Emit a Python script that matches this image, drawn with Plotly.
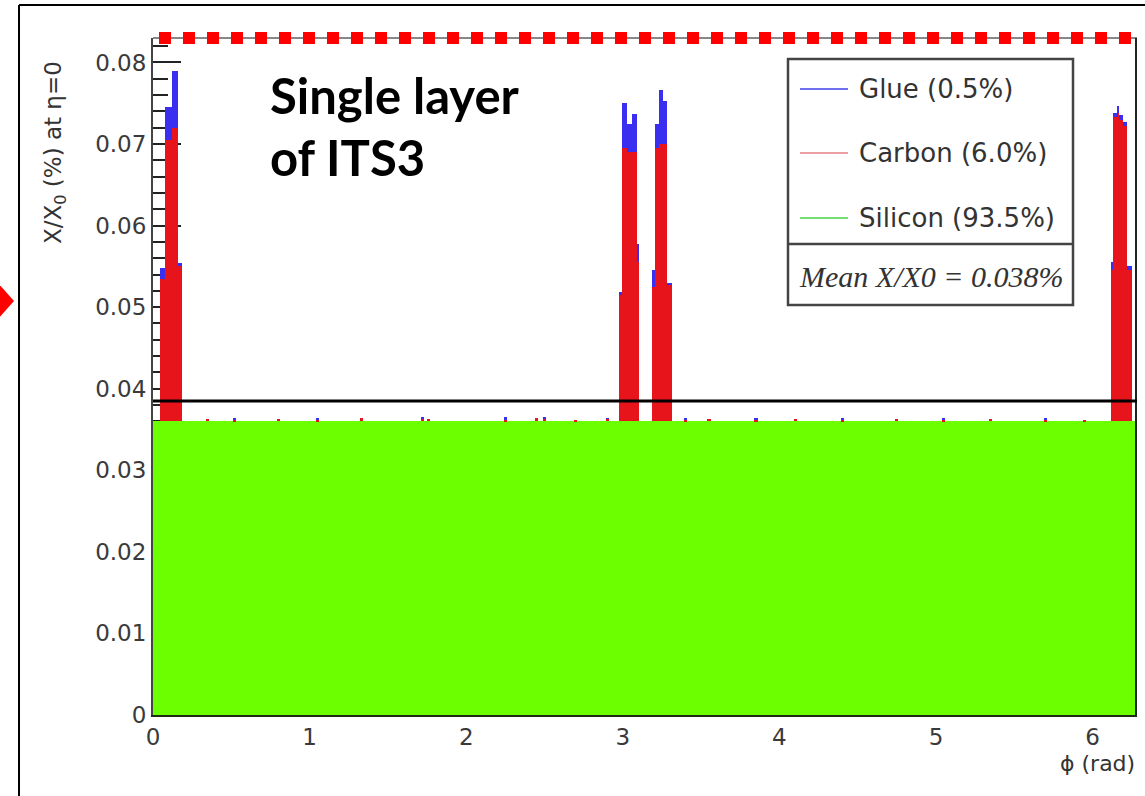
import plotly.graph_objects as go

# ---------------- data ----------------
TWO_PI = 6.283185
silicon_level = 0.0360          # flat silicon contribution (%)
mean_x0 = 0.0385                # mean X/X0 line

# peak bins (phi edges, rad) and stacked contributions above silicon
peak_lo = [0.045, 0.077, 0.121, 0.160,
           2.976, 2.995, 3.027, 3.059, 3.091,
           3.186, 3.206, 3.231, 3.257, 3.282,
           6.118, 6.132, 6.160, 6.170, 6.195, 6.221]
peak_hi = [0.077, 0.121, 0.160, 0.185,
           2.995, 3.027, 3.059, 3.091, 3.103,
           3.206, 3.231, 3.257, 3.282, 3.314,
           6.132, 6.160, 6.170, 6.195, 6.221, 6.253]
peak_carbon = [0.0175, 0.0345, 0.0360, 0.0190,
               0.0155, 0.0335, 0.0330, 0.0330, 0.0195,
               0.0165, 0.0335, 0.0340, 0.0340, 0.0168,
               0.0185, 0.0373, 0.0378, 0.0370, 0.0362, 0.0185]
peak_glue = [0.0013, 0.0040, 0.0070, 0.0004,
             0.0003, 0.0055, 0.0035, 0.0047, 0.0023,
             0.0020, 0.0030, 0.0066, 0.0053, 0.0002,
             0.0010, 0.0005, 0.0009, 0.0006, 0.0005, 0.0006]

# small fluctuations on top of the silicon plateau
speck_phi = [0.35, 0.52, 0.80, 1.05, 1.33, 1.72, 1.76, 2.25, 2.45, 2.50, 2.70, 2.90,
             3.40, 3.55, 3.85, 4.10, 4.40, 4.75, 5.05, 5.35, 5.70, 5.95]
speck_carbon = [0.0003, 0.0002, 0.0003, 0.0002, 0.0004, 0.0004, 0.0003, 0.0002, 0.0004, 0.0003,
                0.0002, 0.0003, 0.0002, 0.0003, 0.0002, 0.0003, 0.0002, 0.0003, 0.0002, 0.0003,
                0.0002, 0.0002]
speck_glue = [0.0000, 0.0002, 0.0000, 0.0002, 0.0000, 0.0001, 0.0000, 0.0003, 0.0000, 0.0002,
              0.0000, 0.0001, 0.0002, 0.0000, 0.0002, 0.0000, 0.0002, 0.0000, 0.0002, 0.0000,
              0.0001, 0.0000]
speck_width = 0.02

x_ticks = [0, 1, 2, 3, 4, 5, 6]
legend_labels = ["Glue (0.5%)", "Carbon (6.0%)", "Silicon (93.5%)"]
mean_label = "Mean X/X0 = 0.038%"

GREEN = "#6cff00"
RED = "#e8141c"
BLUE = "#3a2ef0"

# ---------------- layout geometry (pixels) ----------------
W, H = 1145, 796
PL, PR, PT, PB = 153, 1137, 38, 715


def px(x):
    return (x - PL) / (PR - PL)


def py(y):
    return (PB - y) / (PB - PT)


fig = go.Figure()

# silicon plateau
fig.add_trace(go.Bar(x=[TWO_PI / 2], y=[silicon_level], width=[TWO_PI],
                     marker=dict(color=GREEN, line=dict(width=0)), showlegend=False,
                     hoverinfo="skip"))

# carbon + glue in peaks and specks
c_x = [(a + b) / 2 for a, b in zip(peak_lo, peak_hi)] + speck_phi
c_w = [b - a for a, b in zip(peak_lo, peak_hi)] + [speck_width] * len(speck_phi)
c_y = peak_carbon + speck_carbon
g_y = peak_glue + speck_glue

fig.add_trace(go.Bar(x=c_x, y=c_y, width=c_w, base=[silicon_level] * len(c_x),
                     marker=dict(color=RED, line=dict(width=0)), showlegend=False,
                     hoverinfo="skip"))
fig.add_trace(go.Bar(x=c_x, y=g_y, width=c_w,
                     base=[silicon_level + c for c in c_y],
                     marker=dict(color=BLUE, line=dict(width=0)), showlegend=False,
                     hoverinfo="skip"))

tickfont = dict(family="DejaVu Sans", size=23, color="#3a3a3a")

fig.update_layout(
    width=W, height=H,
    margin=dict(l=PL, r=W - PR, t=PT, b=H - PB),
    paper_bgcolor="white", plot_bgcolor="white",
    barmode="overlay", bargap=0,
    showlegend=False,
    xaxis=dict(range=[0, TWO_PI], tickvals=x_ticks, ticktext=[str(t) for t in x_ticks],
               ticks="", showgrid=False, zeroline=False, showline=True,
               linecolor="#1f2a10", linewidth=2, layer="above traces",
               tickfont=tickfont),
    yaxis=dict(range=[0, 0.083], dtick=0.01, tick0=0, ticks="inside", ticklen=28,
               tickwidth=2, tickcolor="#222", showgrid=False, zeroline=False,
               showline=True, linecolor="#444", linewidth=2, layer="below traces",
               tickfont=tickfont,
               minor=dict(dtick=0.002, ticks="inside", ticklen=15, tickwidth=2,
                          tickcolor="#222")),
)

shapes = []
# plot frame top (gray) and right
shapes.append(dict(type="line", xref="paper", yref="paper", x0=0, x1=px(PR), y0=1, y1=1,
                   line=dict(color="#888", width=2)))
shapes.append(dict(type="line", xref="paper", yref="paper", x0=px(1136), x1=px(1136),
                   y0=0, y1=1, line=dict(color="#222", width=2)))
# mean line
shapes.append(dict(type="line", xref="x", yref="y", x0=0, x1=TWO_PI, y0=mean_x0, y1=mean_x0,
                   line=dict(color="black", width=3)))
# red dotted line at top
shapes.append(dict(type="line", xref="paper", yref="paper", x0=px(159), x1=px(1132),
                   y0=py(38), y1=py(38), line=dict(color="#ff0000", width=12, dash="12px,12px")))
# slide frame
shapes.append(dict(type="line", xref="paper", yref="paper", x0=px(19), x1=px(19),
                   y0=py(5), y1=py(800), line=dict(color="black", width=2)))
shapes.append(dict(type="line", xref="paper", yref="paper", x0=px(19), x1=px(1150),
                   y0=py(5), y1=py(5), line=dict(color="black", width=2)))
# red arrow head at left
shapes.append(dict(type="path", xref="paper", yref="paper",
                   path=f"M {px(-2)} {py(283)} L {px(14)} {py(301)} L {px(-2)} {py(319)} Z",
                   fillcolor="#ff0000", line=dict(width=0)))
# legend box
shapes.append(dict(type="rect", xref="paper", yref="paper", x0=px(788), x1=px(1073),
                   y0=py(305), y1=py(59), fillcolor="white",
                   line=dict(color="#444", width=2.5)))
shapes.append(dict(type="line", xref="paper", yref="paper", x0=px(788), x1=px(1073),
                   y0=py(244), y1=py(244), line=dict(color="#444", width=2.5)))
legend_rows = [89, 153, 218]
legend_line_colors = ["#7070ee", "#eaa0a0", "#70e070"]
for yy, col in zip(legend_rows, legend_line_colors):
    shapes.append(dict(type="line", xref="paper", yref="paper", x0=px(800), x1=px(848),
                       y0=py(yy), y1=py(yy), line=dict(color=col, width=2)))
fig.update_layout(shapes=shapes)

ann = []
for yy, lab in zip(legend_rows, legend_labels):
    ann.append(dict(text=lab, xref="paper", yref="paper", x=px(857), y=py(yy),
                    xanchor="left", yanchor="middle", showarrow=False,
                    font=dict(family="DejaVu Sans", size=26, color="#333")))
ann.append(dict(text=f"<i>{mean_label}</i>", xref="paper", yref="paper", x=px(931), y=py(276),
                xanchor="center", yanchor="middle", showarrow=False,
                font=dict(family="Liberation Serif", size=30, color="#333")))
# axis titles
ann.append(dict(text="X/X<sub>0</sub> (%) at η=0", xref="paper", yref="paper",
                x=px(55), y=py(153), xanchor="center", yanchor="middle", textangle=-90,
                showarrow=False, font=dict(family="DejaVu Sans", size=23, color="#333")))
ann.append(dict(text="ϕ (rad)", xref="paper", yref="paper", x=px(1137), y=py(763),
                xanchor="right", yanchor="middle", showarrow=False,
                font=dict(family="DejaVu Sans", size=22, color="#333")))
# slide caption
ann.append(dict(text="<b>Single layer</b>", xref="paper", yref="paper", x=px(268), y=py(95),
                xanchor="left", yanchor="middle", showarrow=False,
                font=dict(family="Lato", size=49, color="black")))
ann.append(dict(text="<b>of ITS3</b>", xref="paper", yref="paper", x=px(268), y=py(157),
                xanchor="left", yanchor="middle", showarrow=False,
                font=dict(family="Lato", size=49, color="black")))
fig.update_layout(annotations=ann)

fig.write_html("out.html")
